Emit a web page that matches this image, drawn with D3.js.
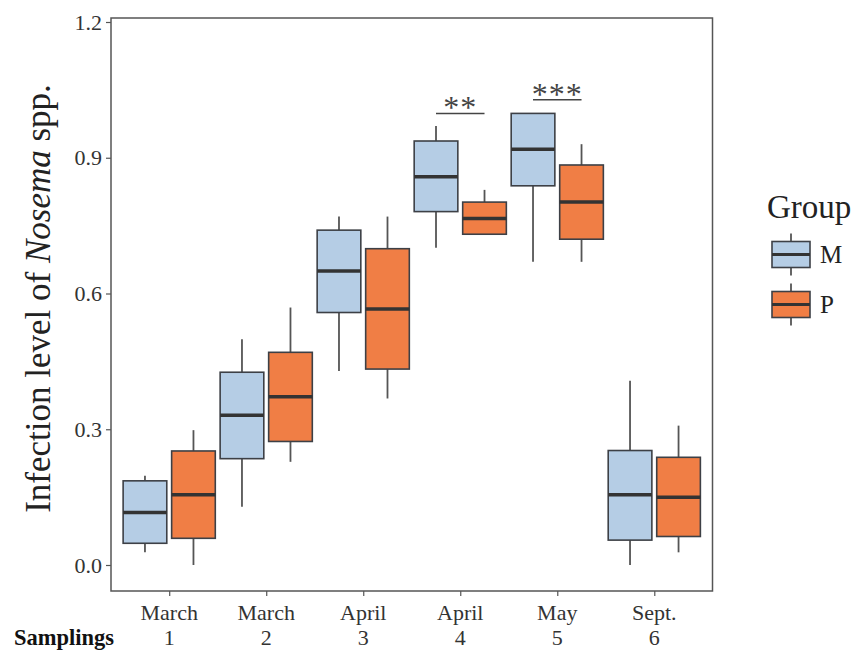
<!DOCTYPE html>
<html>
<head>
<meta charset="utf-8">
<script src="https://cdn.jsdelivr.net/npm/d3@7"></script>
<style>
  body { margin: 0; background: #fff; }
  text { font-family: "Liberation Serif", "Times New Roman", serif; }
</style>
</head>
<body>
<svg id="chart" width="857" height="650"></svg>
<script>
// Sampling labels (two lines under each tick)
var months = ["March", "March", "April", "April", "May", "Sept."];
var samplings = ["1", "2", "3", "4", "5", "6"];
var groups = ["M", "P"];
var groupColors = ["#b5cde5", "#f07e45"];

// Five-number summaries: [min, q1, median, q3, max]
var mBoxes = [
  [0.028, 0.048, 0.116, 0.186, 0.197],
  [0.129, 0.235, 0.331, 0.426, 0.499],
  [0.429, 0.558, 0.650, 0.740, 0.770],
  [0.701, 0.781, 0.858, 0.937, 0.970],
  [0.670, 0.838, 0.919, 0.998, 0.999],
  [0.000, 0.055, 0.155, 0.253, 0.407]
];
var pBoxes = [
  [0.000, 0.059, 0.155, 0.252, 0.298],
  [0.228, 0.273, 0.372, 0.470, 0.569],
  [0.368, 0.433, 0.566, 0.699, 0.770],
  [0.731, 0.731, 0.766, 0.802, 0.829],
  [0.670, 0.720, 0.802, 0.884, 0.930],
  [0.028, 0.063, 0.150, 0.238, 0.308]
];
var yTicks = [0.0, 0.3, 0.6, 0.9, 1.2];

// Significance marks: sampling index, bar height, label
var sigIndex = [3, 4];
var sigLevel = [0.998, 1.028];
var sigLabel = ["**", "***"];

var svg = d3.select("#chart");
var pLeft = 111, pRight = 712.5, pTop = 18, pBottom = 591;

var x = d3.scalePoint()
    .domain(d3.range(months.length))
    .range([pLeft, pRight])
    .padding(0.6);
var step = x.step();

var y = d3.scaleLinear()
    .domain([0, 1.2])
    .range([565, 22]);

var boxW = 0.45 * step;
var offset = [-0.25 * step, 0.25 * step];

// y axis
var yAxis = svg.append("g")
    .attr("transform", "translate(" + pLeft + ",0)")
    .call(d3.axisLeft(y).tickValues(yTicks).tickFormat(d3.format(".1f")).tickSize(5).tickPadding(4));
yAxis.select(".domain").remove();
yAxis.selectAll("line").attr("stroke", "#555").attr("stroke-width", 1.2);
yAxis.selectAll("text").attr("font-size", 22).attr("fill", "#333")
  .style("font-family", "'Liberation Serif', serif");

// x axis ticks
var xAxis = svg.append("g")
    .attr("transform", "translate(0," + pBottom + ")")
    .call(d3.axisBottom(x).tickSize(5).tickFormat(""));
xAxis.select(".domain").remove();
xAxis.selectAll("line").attr("stroke", "#555").attr("stroke-width", 1.2);

months.forEach(function (m, i) {
  svg.append("text").attr("x", x(i)).attr("y", 620)
    .attr("text-anchor", "middle").attr("font-size", 22).attr("fill", "#333").text(m);
  svg.append("text").attr("x", x(i)).attr("y", 645)
    .attr("text-anchor", "middle").attr("font-size", 22).attr("fill", "#333").text(samplings[i]);
});
svg.append("text").attr("x", 114).attr("y", 645)
  .attr("text-anchor", "end").attr("font-size", 22.5).attr("font-weight", "bold")
  .attr("fill", "#111").text("Samplings");

// y title
var yt = svg.append("text")
    .attr("transform", "translate(50," + ((pTop + pBottom) / 2 - 6) + ") rotate(-90)")
    .attr("text-anchor", "middle").attr("font-size", 35).attr("fill", "#222");
yt.append("tspan").text("Infection level of ");
yt.append("tspan").attr("font-style", "italic").text("Nosema");
yt.append("tspan").text(" spp.");

// boxes
function drawBox(g, s, cx, fill) {
  g.append("line").attr("x1", cx).attr("x2", cx).attr("y1", y(s[3])).attr("y2", y(s[4]))
    .attr("stroke", "#555").attr("stroke-width", 1.8);
  g.append("line").attr("x1", cx).attr("x2", cx).attr("y1", y(s[1])).attr("y2", y(s[0]))
    .attr("stroke", "#555").attr("stroke-width", 1.8);
  g.append("rect").attr("x", cx - boxW / 2).attr("width", boxW)
    .attr("y", y(s[3])).attr("height", y(s[1]) - y(s[3]))
    .attr("fill", fill).attr("stroke", "#3d4046").attr("stroke-width", 1.6);
  g.append("line").attr("x1", cx - boxW / 2).attr("x2", cx + boxW / 2)
    .attr("y1", y(s[2])).attr("y2", y(s[2]))
    .attr("stroke", "#333").attr("stroke-width", 3.5);
}

var plot = svg.append("g");
[mBoxes, pBoxes].forEach(function (boxes, gi) {
  boxes.forEach(function (s, i) {
    drawBox(plot, s, x(i) + offset[gi], groupColors[gi]);
  });
});

// significance bars
sigIndex.forEach(function (idx, k) {
  var yy = y(sigLevel[k]);
  svg.append("line").attr("x1", x(idx) + offset[0]).attr("x2", x(idx) + offset[1])
    .attr("y1", yy).attr("y2", yy).attr("stroke", "#444").attr("stroke-width", 1.5);
  svg.append("text").attr("x", x(idx)).attr("y", yy + 5)
    .attr("text-anchor", "middle").attr("font-size", 32).attr("fill", "#444")
    .attr("letter-spacing", 1).text(sigLabel[k]);
});

// panel border
svg.append("rect").attr("x", pLeft).attr("y", pTop)
  .attr("width", pRight - pLeft).attr("height", pBottom - pTop)
  .attr("fill", "none").attr("stroke", "#555").attr("stroke-width", 1.5);

// legend
var lg = svg.append("g");
lg.append("text").attr("x", 767).attr("y", 218).attr("font-size", 33).attr("fill", "#222").text("Group");
groups.forEach(function (gname, i) {
  var cy = 254.5 + i * 50;
  var kx = 791;
  lg.append("line").attr("x1", kx).attr("x2", kx).attr("y1", cy - 21).attr("y2", cy + 21)
    .attr("stroke", "#555").attr("stroke-width", 1.8);
  lg.append("rect").attr("x", kx - 19).attr("y", cy - 13).attr("width", 38).attr("height", 26)
    .attr("fill", groupColors[i]).attr("stroke", "#3d4046").attr("stroke-width", 1.6);
  lg.append("line").attr("x1", kx - 19).attr("x2", kx + 19).attr("y1", cy).attr("y2", cy)
    .attr("stroke", "#333").attr("stroke-width", 3);
  lg.append("text").attr("x", 820).attr("y", cy + 8).attr("font-size", 25).attr("fill", "#222").text(gname);
});
</script>
</body>
</html>
